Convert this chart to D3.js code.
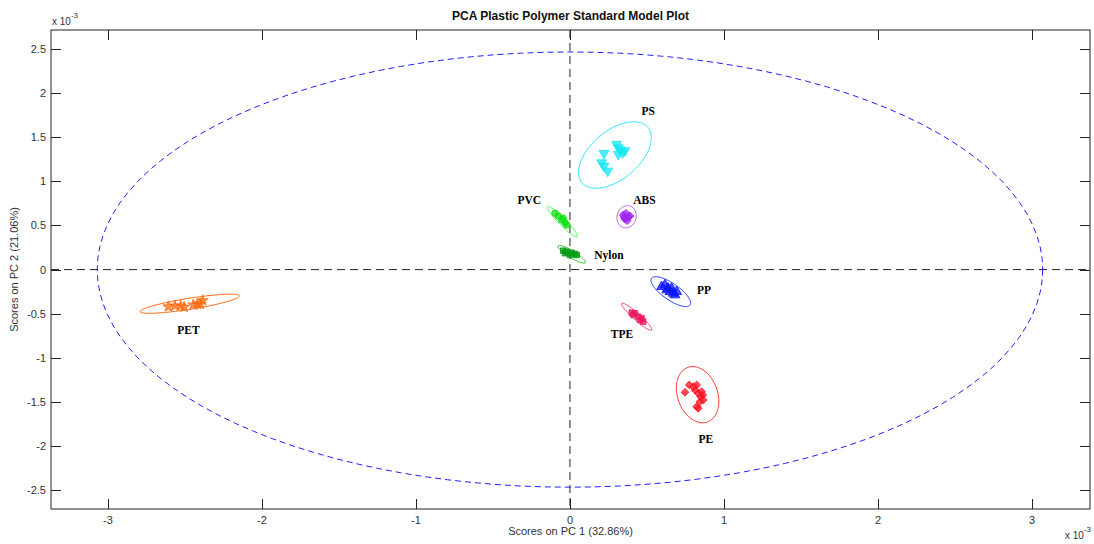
<!DOCTYPE html>
<html><head><meta charset="utf-8">
<script src="https://cdn.jsdelivr.net/npm/d3@7"></script>
<style>
body{margin:0;background:#fff;}
svg{display:block;}
</style></head>
<body><div id="chart"></div>
<script>
// ---------- data (scores in units of 1e-3) ----------
const groups = ["PET","PS","ABS","PVC","Nylon","PP","TPE","PE"];
const groupColors = ["#ff6a10","#14e6f0","#a020f0","#10e010","#009a10","#0a14ff","#f01460","#ff1020"];
const ellipseColors = ["#ff6a10","#30e8f8","#c050f8","#40ff40","#20c020","#2030ff","#ff3070","#ff3030"];
const groupSymbols = ["star","triangleDown","diamond","circle","square","triangleUp","square","diamond"];

const petX = [-2.608,-2.565,-2.528,-2.506,-2.446,-2.420,-2.400,-2.385];
const petY = [-0.420,-0.410,-0.410,-0.425,-0.400,-0.390,-0.390,-0.350];
const psX = [0.221,0.206,0.221,0.245,0.303,0.314,0.329,0.357,0.314,0.342];
const psY = [1.318,1.211,1.174,1.117,1.420,1.381,1.355,1.347,1.306,1.324];
const absX = [0.346,0.364,0.379,0.357,0.372,0.390,0.351];
const absY = [0.619,0.638,0.599,0.570,0.554,0.607,0.592];
const pvcX = [-0.097,-0.076,-0.054,-0.032,-0.021,-0.044];
const pvcY = [0.638,0.607,0.562,0.531,0.505,0.581];
const nylonX = [-0.044,-0.021,0.011,0.032,0.000,0.044,-0.032];
const nylonY = [0.214,0.203,0.191,0.177,0.165,0.165,0.185];
const ppX = [0.595,0.617,0.638,0.649,0.671,0.682,0.660,0.628,0.693];
const ppY = [-0.194,-0.174,-0.212,-0.250,-0.269,-0.288,-0.212,-0.231,-0.250];
const tpeX = [0.401,0.422,0.444,0.455,0.476,0.466,0.411];
const tpeY = [-0.488,-0.495,-0.534,-0.571,-0.590,-0.552,-0.514];
const peX = [0.747,0.775,0.801,0.823,0.812,0.833,0.855,0.849,0.844,0.833,0.823,0.866,0.862];
const peY = [-1.390,-1.307,-1.327,-1.307,-1.364,-1.401,-1.383,-1.440,-1.497,-1.571,-1.553,-1.477,-1.421];
const pointsX = [petX,psX,absX,pvcX,nylonX,ppX,tpeX,peX];
const pointsY = [petY,psY,absY,pvcY,nylonY,ppY,tpeY,peY];

// confidence ellipses: centre, semi-major vector (data units), minor/major ratio
const ellCx = [-2.469,0.292,0.368,-0.049,0.011,0.655,0.433,0.829];
const ellCy = [-0.387,1.298,0.599,0.543,0.174,-0.250,-0.534,-1.417];
const ellUx = [0.322,0.214,0.020,0.096,0.088,0.125,0.097,0.064];
const ellUy = [0.089,0.313,0.122,-0.170,-0.094,-0.151,-0.151,-0.309];
const ellRatio = [0.11,0.56,0.85,0.17,0.22,0.35,0.17,0.69];

// label anchors (data units)
const labelX = [-2.477,0.508,0.484,-0.264,0.253,0.870,0.338,0.883];
const labelY = [-0.696,1.777,0.771,0.777,0.154,-0.248,-0.741,-1.930];

// model confidence ellipse (overall)
const modelRx = 3.07, modelRy = 2.465;

const xTicks = [-3,-2,-1,0,1,2,3];
const yTicks = [-2.5,-2,-1.5,-1,-0.5,0,0.5,1,1.5,2,2.5];
const xDomain = [-3.37,3.377];
const yDomain = [-2.712,2.714];

// ---------- layout ----------
const W = 1094, H = 544;
const L = 51, R = 1090, T = 30, B = 509;
const svg = d3.select("#chart").append("svg").attr("width",W).attr("height",H)
  .style("font-family","Arial, 'Liberation Sans', sans-serif");

const x = d3.scaleLinear().domain(xDomain).range([L,R]);
const y = d3.scaleLinear().domain(yDomain).range([B,T]);

// crosshair
svg.append("line").attr("x1",x(0)).attr("x2",x(0)).attr("y1",T).attr("y2",B)
  .attr("stroke","#222").attr("stroke-width",1).attr("stroke-dasharray","8,5");
svg.append("line").attr("x1",L).attr("x2",R).attr("y1",y(0)).attr("y2",y(0))
  .attr("stroke","#222").attr("stroke-width",1).attr("stroke-dasharray","8,5");

// ellipse helper
function ellipsePath(cx, cy, ux, uy, ratio){
  const C = [x(cx), y(cy)];
  const U = [x(cx+ux)-C[0], y(cy+uy)-C[1]];
  const V = [-U[1]*ratio, U[0]*ratio];
  const pts = d3.range(0, 361, 3).map(a => {
    const t = a*Math.PI/180;
    return [C[0]+U[0]*Math.cos(t)+V[0]*Math.sin(t), C[1]+U[1]*Math.cos(t)+V[1]*Math.sin(t)];
  });
  return d3.line()(pts) + "Z";
}

// model ellipse
svg.append("path").attr("d", ellipsePath(0,0,modelRx,0,(y(0)-y(modelRy))/(x(modelRx)-x(0))))
  .attr("fill","none").attr("stroke","#2020ff").attr("stroke-width",1).attr("stroke-dasharray","6,4");

// group ellipses
groups.forEach((g,i)=>{
  svg.append("path").attr("d", ellipsePath(ellCx[i],ellCy[i],ellUx[i],ellUy[i],ellRatio[i]))
    .attr("fill","none").attr("stroke",ellipseColors[i]).attr("stroke-width",1);
});

// markers
function sym(kind){
  if(kind==="star") return {t:d3.symbolStar,s:38,r:0};
  if(kind==="triangleDown") return {t:d3.symbolTriangle,s:42,r:180};
  if(kind==="triangleUp") return {t:d3.symbolTriangle,s:42,r:0};
  if(kind==="diamond") return {t:d3.symbolSquare,s:30,r:45};
  if(kind==="square") return {t:d3.symbolSquare,s:30,r:0};
  return {t:d3.symbolCircle,s:34,r:0};
}
groups.forEach((g,i)=>{
  const s = sym(groupSymbols[i]);
  const path = d3.symbol().type(s.t).size(s.s)();
  pointsX[i].forEach((vx,j)=>{
    svg.append("path").attr("d",path)
      .attr("transform",`translate(${x(vx)},${y(pointsY[i][j])}) rotate(${s.r})`)
      .attr("fill",groupColors[i]).attr("fill-opacity",0.75)
      .attr("stroke",groupColors[i]).attr("stroke-width",0.8);
  });
});

// group labels
groups.forEach((g,i)=>{
  svg.append("text").attr("x",x(labelX[i])).attr("y",y(labelY[i]))
    .attr("text-anchor","middle").attr("dominant-baseline","middle")
    .style("font-family","'Liberation Serif','Times New Roman',serif")
    .style("font-weight","bold").style("font-size","11.5px").attr("fill","#000").text(g);
});

// axes box
svg.append("rect").attr("x",L).attr("y",T).attr("width",R-L).attr("height",B-T)
  .attr("fill","none").attr("stroke","#222").attr("stroke-width",1);

const tl = 10;
xTicks.forEach(v=>{
  const px = Math.round(x(v))+0.5;
  svg.append("line").attr("x1",px).attr("x2",px).attr("y1",B).attr("y2",B-tl).attr("stroke","#222");
  svg.append("line").attr("x1",px).attr("x2",px).attr("y1",T).attr("y2",T+tl).attr("stroke","#222");
  svg.append("text").attr("x",x(v)).attr("y",B+15).attr("text-anchor","middle")
    .style("font-size","11px").attr("fill","#333").text(v);
});
yTicks.forEach(v=>{
  const py = Math.round(y(v))+0.5;
  svg.append("line").attr("x1",L).attr("x2",L+tl).attr("y1",py).attr("y2",py).attr("stroke","#222");
  svg.append("line").attr("x1",R).attr("x2",R-tl).attr("y1",py).attr("y2",py).attr("stroke","#222");
  svg.append("text").attr("x",L-5).attr("y",y(v)+4).attr("text-anchor","end")
    .style("font-size","11px").attr("fill","#333").text(v);
});

// exponent labels
function expLabel(px, py){
  const t = svg.append("text").attr("x",px).attr("y",py).style("font-size","10px").attr("fill","#333");
  t.append("tspan").text("x 10");
  t.append("tspan").attr("dy",-7).style("font-size","8px").text("-3");
}
expLabel(L+1, 25);
expLabel(1065, 539);

// title and axis labels
svg.append("text").attr("x",(L+R)/2).attr("y",20).attr("text-anchor","middle")
  .style("font-size","12px").style("font-weight","bold").attr("fill","#111")
  .text("PCA Plastic Polymer Standard Model Plot");
svg.append("text").attr("x",(L+R)/2).attr("y",535).attr("text-anchor","middle")
  .style("font-size","11px").attr("fill","#333").text("Scores on PC 1 (32.86%)");
svg.append("text").attr("transform",`translate(18,${(T+B)/2}) rotate(-90)`).attr("text-anchor","middle")
  .style("font-size","11px").attr("fill","#333").text("Scores on PC 2 (21.06%)");
</script>
</body></html>
